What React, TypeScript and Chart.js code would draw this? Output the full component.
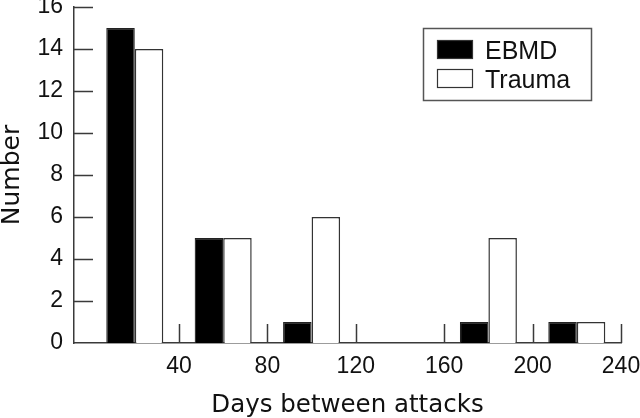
import React, { useEffect, useRef } from "react";
import { Chart, registerables } from "chart.js";

Chart.register(...registerables);

const binCenters = [20, 60, 100, 140, 180, 220];
const ebmdCounts = [15, 5, 1, 0, 1, 1];
const traumaCounts = [14, 5, 6, 0, 5, 1];
const xTickValues = [40, 80, 120, 160, 200, 240];
const yTickValues = [0, 2, 4, 6, 8, 10, 12, 14, 16];
const seriesLabels = ["EBMD", "Trauma"];
const xTitle = "Days between attacks";
const yTitle = "Number";

const AXIS = "#3a3a3a";

const innerTicksAndLegend = {
  id: "innerTicksAndLegend",
  afterDraw(chart: any) {
    const { ctx, chartArea, scales } = chart;
    const x = scales.x;
    const y = scales.y;
    ctx.save();
    ctx.strokeStyle = AXIS;
    ctx.lineWidth = 1.5;
    ctx.beginPath();
    for (const v of yTickValues) {
      if (v === 0) continue;
      const py = Math.round(y.getPixelForValue(v)) + 0.5;
      ctx.moveTo(chartArea.left, py);
      ctx.lineTo(chartArea.left + 19, py);
    }
    for (const v of xTickValues) {
      const px = Math.round(x.getPixelForValue(v)) + 0.5;
      ctx.moveTo(px, chartArea.bottom);
      ctx.lineTo(px, chartArea.bottom - 19);
    }
    ctx.stroke();

    // legend
    ctx.lineWidth = 1.5;
    ctx.strokeStyle = "#555";
    ctx.strokeRect(423.5, 28.5, 168, 72);
    const ds = chart.data.datasets;
    const rows = [50, 79];
    ds.forEach((d: any, i: number) => {
      const cy = rows[i];
      ctx.fillStyle = d.backgroundColor;
      ctx.fillRect(437, cy - 10, 36, 19);
      ctx.strokeStyle = "#333";
      ctx.lineWidth = 1.2;
      ctx.strokeRect(437.5, cy - 9.5, 35, 18);
      ctx.fillStyle = "#111";
      ctx.font = "25px 'Liberation Sans'";
      ctx.textBaseline = "alphabetic";
      ctx.textAlign = "left";
      ctx.fillText(d.label, 485, cy + 9);
    });
    ctx.restore();
  },
};

export default function App() {
  const ref = useRef<HTMLCanvasElement>(null);
  useEffect(() => {
    if (!ref.current) return;
    const chart = new Chart(ref.current, {
      type: "bar",
      data: {
        datasets: [
          {
            label: seriesLabels[0],
            data: binCenters.map((c, i) => ({ x: c, y: ebmdCounts[i] })),
            backgroundColor: "#000000",
            borderColor: "#222222",
            borderWidth: 1.2,
          },
          {
            label: seriesLabels[1],
            data: binCenters.map((c, i) => ({ x: c, y: traumaCounts[i] })),
            backgroundColor: "#ffffff",
            borderColor: "#333333",
            borderWidth: 1.5,
          },
        ],
      },
      options: {
        animation: false,
        responsive: false,
        events: [],
        layout: { padding: { top: 7, right: 19, left: 0, bottom: 0 } },
        datasets: { bar: { barPercentage: 1, categoryPercentage: 0.645 } },
        plugins: { legend: { display: false }, tooltip: { enabled: false } },
        scales: {
          x: {
            type: "linear",
            offset: false,
            min: -7.5,
            max: 240,
            grid: { display: false, drawTicks: false },
            border: { display: true, color: AXIS, width: 1.5 },
            afterBuildTicks: (scale: any) => {
              scale.ticks = xTickValues.map((v) => ({ value: v }));
            },
            afterFit: (scale: any) => {
              scale.height = 75;
              scale.paddingLeft = 0;
              scale.paddingRight = 0;
            },
            ticks: {
              padding: 10,
              color: "#111",
              font: { family: "'Liberation Sans'", size: 23 },
              callback: (v: any) => String(v),
              maxRotation: 0,
              autoSkip: false,
            },
            title: {
              display: true,
              text: xTitle,
              color: "#111",
              padding: 0,
              font: { family: "'DejaVu Sans'", size: 24.5, lineHeight: 1 },
            },
          },
          y: {
            min: 0,
            max: 16,
            grid: { display: false, drawTicks: false },
            border: { display: true, color: AXIS, width: 1.5 },
            afterBuildTicks: (scale: any) => {
              scale.ticks = yTickValues.map((v) => ({ value: v }));
            },
            afterFit: (scale: any) => {
              scale.width = 74;
              scale.paddingTop = 0;
              scale.paddingBottom = 0;
            },
            ticks: {
              padding: 11,
              color: "#111",
              font: { family: "'Liberation Sans'", size: 23 },
              callback: (v: any) => String(v),
            },
            title: {
              display: true,
              text: yTitle,
              color: "#111",
              padding: 0,
              font: { family: "'DejaVu Sans'", size: 25, lineHeight: 1 },
            },
          },
        },
      },
      plugins: [innerTicksAndLegend],
    } as any);
    return () => chart.destroy();
  }, []);
  return (
    <div style={{ position: "absolute", left: 0, top: 0, width: 640, height: 418, background: "#fff" }}>
      <canvas ref={ref} width={640} height={418} />
    </div>
  );
}
